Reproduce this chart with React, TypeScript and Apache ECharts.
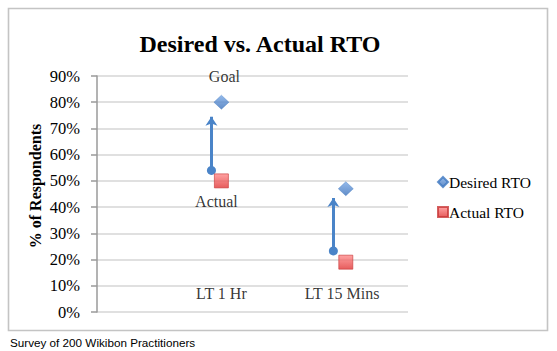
import React, { useEffect, useRef } from "react";
import * as echarts from "echarts";

const categories = ["LT 1 Hr", "LT 15 Mins"];
const categoryX = [1, 2];
const desired = [0.8, 0.47];
const actual = [0.5, 0.19];
const arrowX = [0.92, 1.9];
const arrowFrom = [0.54, 0.233];
const arrowTo = [0.745, 0.435];
const categoryLabelY = 0.07;
const pointLabels = ["Goal", "Actual"];

const SERIF = "'Liberation Serif', 'Times New Roman', serif";

export default function App() {
  const ref = useRef<HTMLDivElement>(null);
  useEffect(() => {
    const chart = echarts.init(ref.current!, null, { renderer: "svg" });
    const blueGrad = new echarts.graphic.LinearGradient(0, 0, 0, 1, [
      { offset: 0, color: "#78a8e6" },
      { offset: 1, color: "#3a70ba" },
    ]);
    const redGrad = new echarts.graphic.LinearGradient(0, 0, 0, 1, [
      { offset: 0, color: "#ff8a8a" },
      { offset: 1, color: "#e03434" },
    ]);
    chart.setOption({
      animation: false,
      backgroundColor: "#fff",
      grid: { left: 97, right: 149, top: 76, bottom: 39 },
      xAxis: {
        type: "value",
        min: 0,
        max: 2.5,
        show: false,
      },
      yAxis: {
        type: "value",
        min: 0,
        max: 0.9,
        interval: 0.1,
        axisLine: { show: true, lineStyle: { color: "#9a9a9a", width: 1.5 } },
        axisTick: { show: true, length: 6, lineStyle: { color: "#9a9a9a", width: 1.5 } },
        splitLine: { lineStyle: { color: "#d6d6d6", width: 1.5 } },
        axisLabel: {
          margin: 17,
          formatter: (v: number) => Math.round(v * 100) + "%",
          fontFamily: SERIF,
          fontSize: 16.5,
          color: "#000",
        },
      },
      legend: {
        orient: "vertical",
        left: 437,
        top: 174,
        padding: 0,
        itemWidth: 10,
        itemHeight: 10,
        itemGap: 14,
        data: ["Desired RTO", "Actual RTO"],
        textStyle: {
          fontFamily: SERIF,
          fontSize: 15.5,
          color: "#000",
          padding: [0, 0, 0, -4],
        },
      },
      graphic: [
        {
          type: "rect",
          shape: { x: 8.5, y: 8.5, width: 539, height: 322 },
          style: { fill: "none", stroke: "#c4c4c4", lineWidth: 1.6 },
          silent: true,
        },
        {
          type: "text",
          x: 260,
          y: 44,
          style: {
            text: "Desired vs. Actual RTO",
            fontFamily: SERIF,
            fontWeight: "bold",
            fontSize: 24,
            fill: "#000",
            textAlign: "center",
            textVerticalAlign: "middle",
          },
        },
        {
          type: "text",
          x: 35,
          y: 186,
          rotation: Math.PI / 2,
          style: {
            text: "% of Respondents",
            fontFamily: SERIF,
            fontWeight: "bold",
            fontSize: 16,
            fill: "#000",
            textAlign: "center",
            textVerticalAlign: "middle",
          },
        },
        {
          type: "text",
          x: 10,
          y: 342,
          style: {
            text: "Survey of 200 Wikibon Practitioners",
            fontFamily: "'Liberation Sans', Arial, sans-serif",
            fontSize: 11.7,
            fill: "#000",
            textAlign: "left",
            textVerticalAlign: "middle",
          },
        },
      ],
      series: [
        {
          name: "arrows",
          type: "lines",
          coordinateSystem: "cartesian2d",
          silent: true,
          symbol: ["circle", "arrow"],
          symbolSize: [9, 9],
          lineStyle: { color: "#4a84c8", width: 3, opacity: 1 },
          data: arrowX.map((x, i) => ({
            coords: [
              [x, arrowFrom[i]],
              [x, arrowTo[i]],
            ],
          })),
          z: 3,
        },
        {
          name: "Desired RTO",
          type: "scatter",
          symbol: "diamond",
          symbolSize: [15, 14],
          itemStyle: { color: blueGrad, borderColor: "#3f78c0", borderWidth: 0.5 },
          data: categoryX.map((x, i) => ({
            value: [x, desired[i]],
            label:
              i === 0
                ? {
                    show: true,
                    position: "top",
                    distance: 10,
                    offset: [3, 0],
                    formatter: pointLabels[0],
                    fontFamily: SERIF,
                    fontSize: 16,
                    color: "#000",
                  }
                : { show: false },
          })),
          z: 4,
        },
        {
          name: "Actual RTO",
          type: "scatter",
          symbol: "rect",
          symbolSize: 14,
          itemStyle: { color: redGrad, borderColor: "#c83838", borderWidth: 0.8 },
          data: categoryX.map((x, i) => ({
            value: [x, actual[i]],
            label:
              i === 0
                ? {
                    show: true,
                    position: "bottom",
                    distance: 5,
                    offset: [-5, 0],
                    formatter: pointLabels[1],
                    fontFamily: SERIF,
                    fontSize: 16,
                    color: "#000",
                  }
                : { show: false },
          })),
          z: 4,
        },
        {
          name: "categoryLabels",
          type: "scatter",
          silent: true,
          symbolSize: 0.01,
          itemStyle: { color: "rgba(0,0,0,0)" },
          label: {
            show: true,
            position: "inside",
            formatter: (p: any) => p.name,
            fontFamily: SERIF,
            fontSize: 16,
            color: "#000",
          },
          data: categoryX.map((x, i) => ({
            name: categories[i],
            value: [x - (i === 1 ? 0.03 : 0), categoryLabelY],
          })),
        },
      ],
    });
    return () => chart.dispose();
  }, []);
  return (
    <div
      ref={ref}
      style={{ position: "absolute", left: 0, top: 0, width: 557, height: 351 }}
    />
  );
}
